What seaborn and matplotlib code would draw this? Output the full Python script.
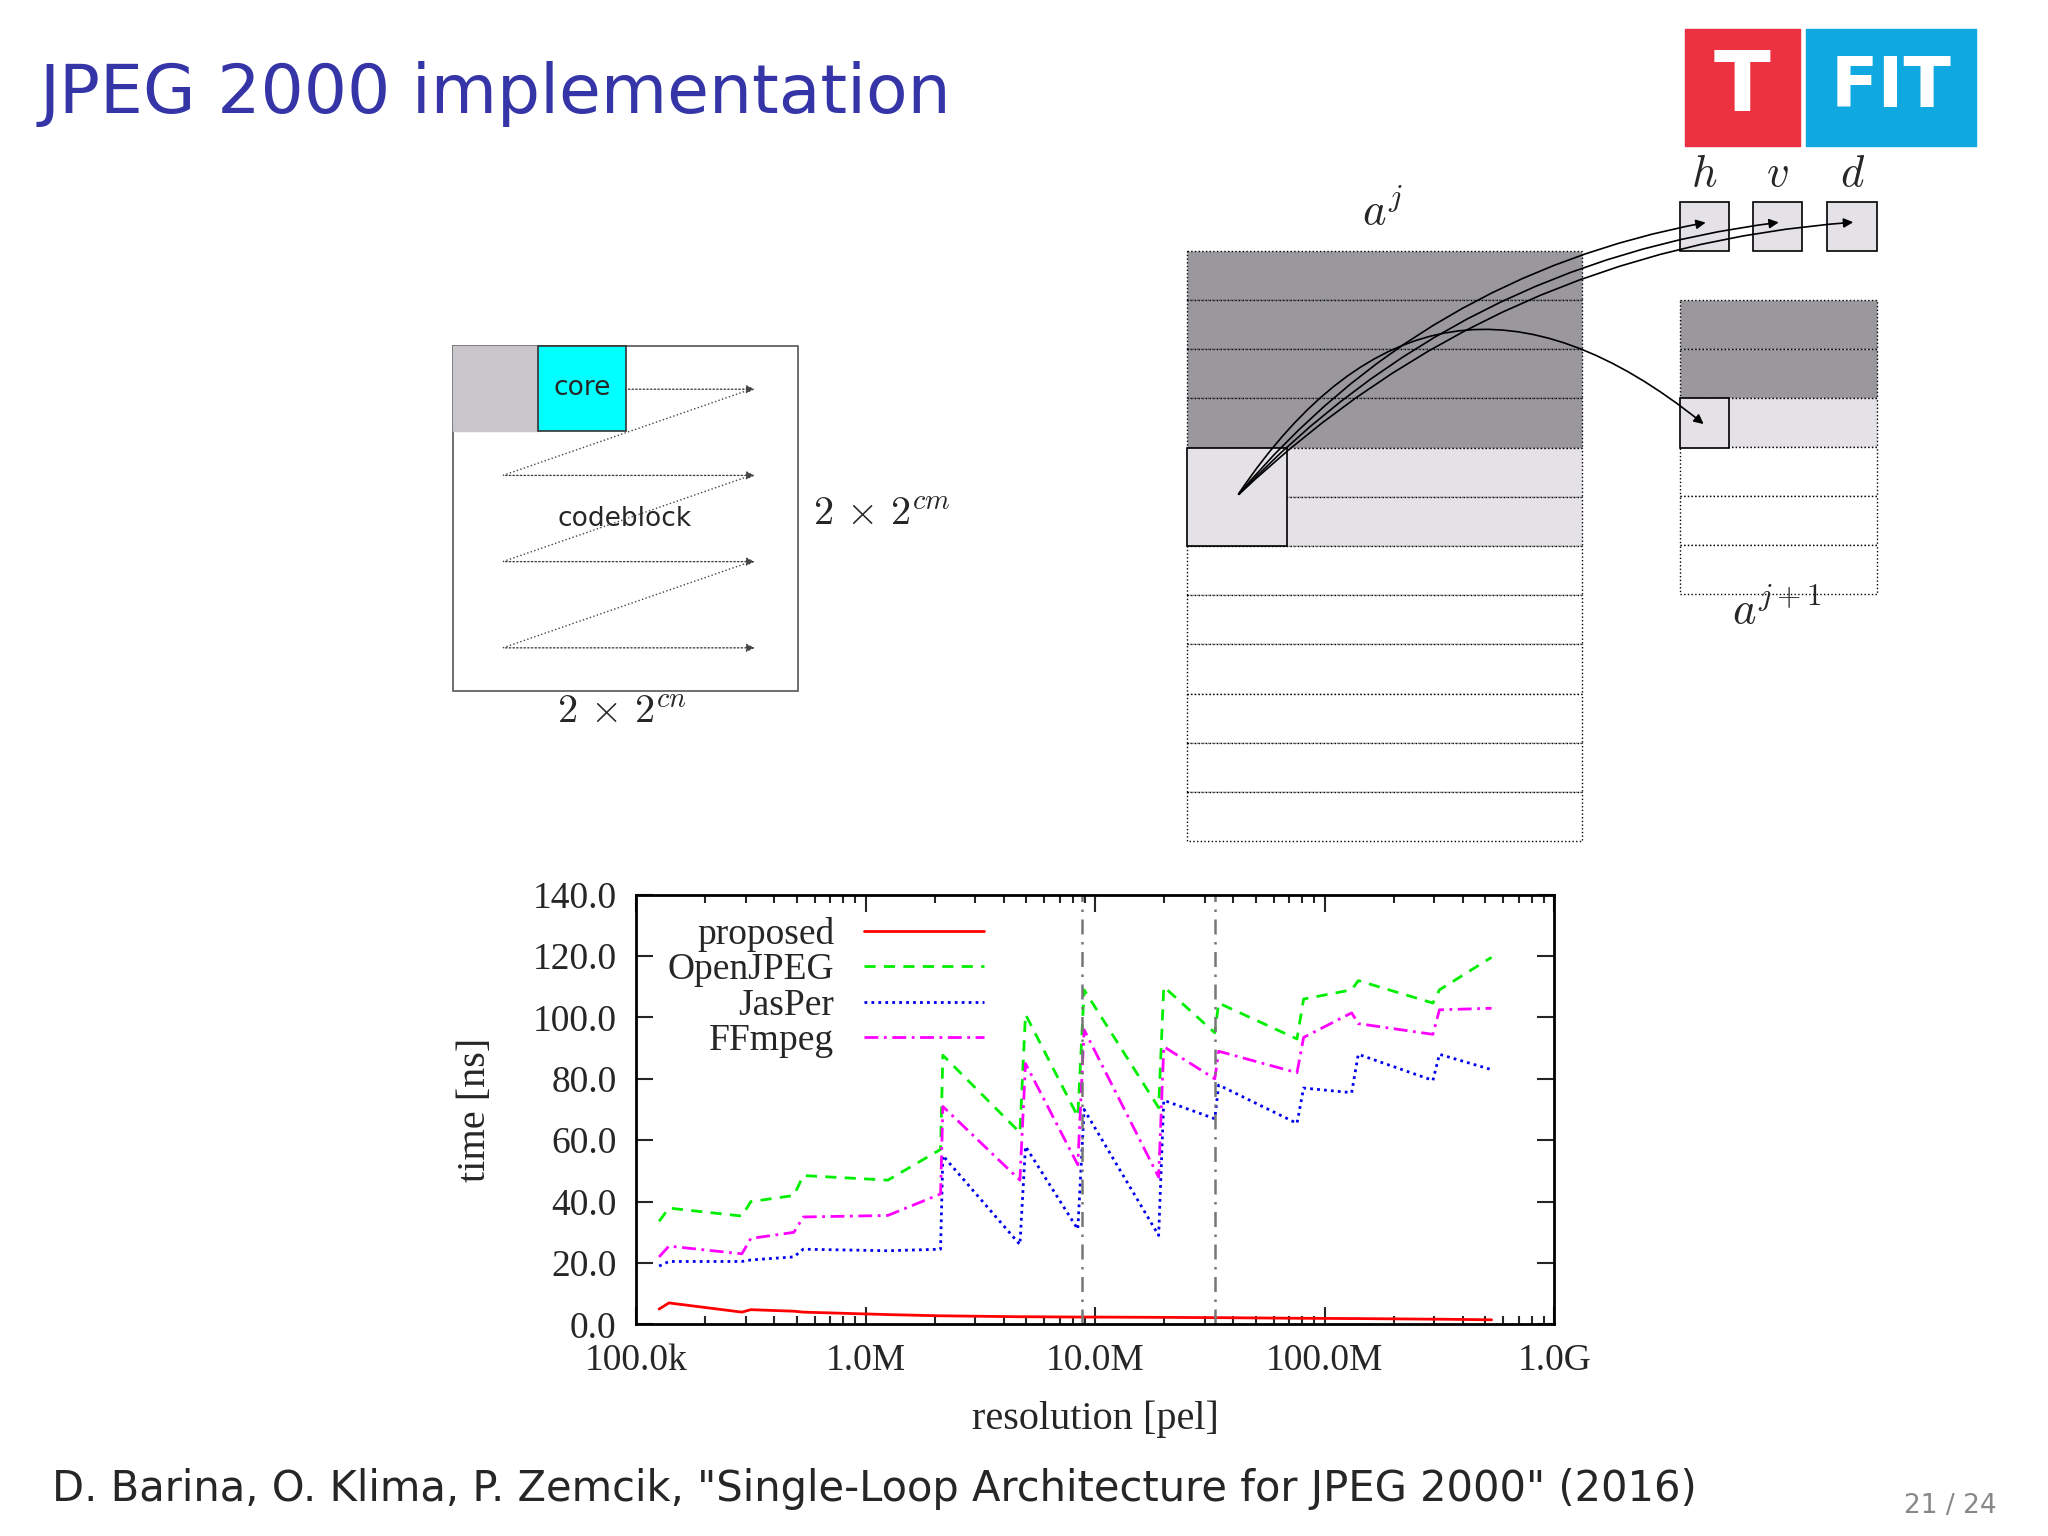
import numpy as np
import pandas as pd
import matplotlib
matplotlib.use("Agg")
import matplotlib.pyplot as plt
import matplotlib.ticker as mticker
from matplotlib.patches import Rectangle, FancyArrowPatch
import seaborn as sns

# resolution [pel] sample points
resolution = [126e3, 139e3, 289e3, 316e3, 487e3, 535e3, 1.25e6, 2.12e6, 2.17e6, 4.7e6,
              4.97e6, 8.4e6, 8.95e6, 18.9e6, 19.9e6, 33.2e6, 34.5e6, 75.7e6, 80.9e6,
              131e6, 140e6, 296e6, 316e6, 533e6]
proposed = [5.0, 7.0, 4.0, 4.8, 4.3, 4.0, 3.2, 2.8, 2.8, 2.5, 2.5, 2.4, 2.4, 2.3, 2.3,
            2.2, 2.2, 2.0, 2.0, 1.9, 1.9, 1.7, 1.7, 1.5]
openjpeg = [33.6, 37.9, 35.3, 40.0, 42.0, 48.5, 47.0, 57.0, 87.7, 62.5, 101.0, 67.7,
            109.0, 70.6, 110.0, 95.0, 104.7, 93.0, 106.0, 109.0, 112.0, 104.7, 109.0, 119.6]
jasper = [19.0, 20.5, 20.5, 21.0, 22.0, 24.5, 24.0, 24.5, 55.0, 26.0, 58.0, 31.0, 70.0,
          29.0, 73.0, 67.0, 78.0, 65.5, 77.0, 75.5, 88.0, 79.5, 88.0, 83.0]
ffmpeg = [22.0, 25.5, 23.0, 28.0, 30.0, 35.0, 35.5, 42.5, 71.0, 47.0, 85.0, 52.0, 96.0,
          48.0, 90.5, 80.0, 89.0, 82.0, 93.5, 101.5, 98.0, 94.5, 102.5, 103.0]
series_names = ["proposed", "OpenJPEG", "JasPer", "FFmpeg"]
vlines = [8.8e6, 33.2e6]
y_ticks = [0, 20, 40, 60, 80, 100, 120, 140]
x_ticks = [1e5, 1e6, 1e7, 1e8, 1e9]
x_ticklabels = ["100.0k", "1.0M", "10.0M", "100.0M", "1.0G"]

df = pd.DataFrame({"resolution": resolution * 4,
                   "time": proposed + openjpeg + jasper + ffmpeg,
                   "impl": sum([[n] * len(resolution) for n in series_names], [])})

sns.set_theme(style="white")
plt.rcParams["font.family"] = ["DejaVu Sans"]
plt.rcParams["mathtext.fontset"] = "cm"
W, H = 1568, 1176
fig = plt.figure(figsize=(20.48, 15.36), dpi=100)
fig.patch.set_facecolor("white")

# slide overlay in reference pixel units
ov = fig.add_axes([0, 0, 1, 1])
ov.set_xlim(0, W)
ov.set_ylim(H, 0)
ov.axis("off")

ov.text(30, 72, "JPEG 2000 implementation", color="#3535a8", fontsize=49, va="center")
ov.add_patch(Rectangle((1290, 22), 88, 90, color="#ec3140"))
ov.add_patch(Rectangle((1383, 22), 130, 90, color="#10a8e0"))
ov.text(1334, 67, "T", color="white", fontsize=60, fontweight="bold", ha="center", va="center")
ov.text(1448, 67, "FIT", color="white", fontsize=50, fontweight="bold", ha="center", va="center")

# codeblock diagram
ov.add_patch(Rectangle((347, 265), 264, 264, fill=False, ec="#555555", lw=1.2))
ov.add_patch(Rectangle((347, 265), 65, 65, color="#c8c6ca"))
ov.add_patch(Rectangle((412, 265), 67, 65, fc="#00ffff", ec="#333333", lw=1.2))
ov.text(446, 297, "core", fontsize=19, ha="center", va="center")
ov.text(478, 397, "codeblock", fontsize=19, ha="center", va="center")
rows_y = [298, 364, 430, 496]
for i, ry in enumerate(rows_y):
    x0 = 479 if i == 0 else 385
    ov.annotate("", xy=(580, ry), xytext=(x0, ry),
                arrowprops=dict(arrowstyle="-|>", ls=":", color="#444444", lw=1))
    if i < 3:
        ov.plot([575, 385], [ry, rows_y[i + 1]], ls=":", color="#444444", lw=1)
ov.text(675, 393, r"$2\,\times\,2^{cm}$", fontsize=29, ha="center", va="center")
ov.text(476, 545, r"$2\,\times\,2^{cn}$", fontsize=29, ha="center", va="center")

# wavelet diagram
rh = 452 / 12
for i in range(12):
    fc = "#9a989c" if i < 4 else ("#e4e2e6" if i < 6 else "white")
    ov.add_patch(Rectangle((909, 192 + i * rh), 302, rh, fc=fc, ec="black", lw=1, ls=":"))
ov.add_patch(Rectangle((909, 343), 76, 75, fc="#e4e2e6", ec="black", lw=1.2))
for i in range(6):
    fc = "#9a989c" if i < 2 else ("#e4e2e6" if i == 2 else "white")
    ov.add_patch(Rectangle((1286, 230 + i * 37.5), 151, 37.5, fc=fc, ec="black", lw=1, ls=":"))
ov.add_patch(Rectangle((1286, 305), 38, 38, fc="#e4e2e6", ec="black", lw=1.2))
for bx, lab in zip([1286, 1342, 1399], ["h", "v", "d"]):
    ov.add_patch(Rectangle((bx, 155), 38, 37, fc="#e4e2e6", ec="black", lw=1.2))
    ov.text(bx + 19, 133, "$" + lab + "$", fontsize=32, ha="center", va="center")
    ov.add_patch(FancyArrowPatch((947, 380), (bx + 22, 170), connectionstyle="arc3,rad=-0.18",
                                 arrowstyle="-|>", mutation_scale=14, color="black", lw=1.2))
ov.add_patch(FancyArrowPatch((947, 380), (1306, 326), connectionstyle="arc3,rad=-0.55",
                             arrowstyle="-|>", mutation_scale=14, color="black", lw=1.2))
ov.text(1058, 163, "$a^j$", fontsize=32, ha="center", va="center")
ov.text(1360, 468, "$a^{j+1}$", fontsize=32, ha="center", va="center")

ov.text(40, 1140, 'D. Barina, O. Klima, P. Zemcik, "Single-Loop Architecture for JPEG 2000" (2016)',
        fontsize=30, va="center")
ov.text(1493, 1153, "21 / 24", fontsize=19, color="#888888", ha="center", va="center")

# chart
ax = fig.add_axes([487 / W, 1 - 1014 / H, (1190 - 487) / W, (1014 - 685) / H])
palette = {"proposed": "#ff0000", "OpenJPEG": "#00ee00", "JasPer": "#0000ee", "FFmpeg": "#ff00ff"}
dashes = {"proposed": "", "OpenJPEG": (4, 3), "JasPer": (1, 1.5), "FFmpeg": (5, 2, 1, 2)}
sns.lineplot(data=df, x="resolution", y="time", hue="impl", style="impl",
             palette=palette, dashes=dashes, lw=2, ax=ax, legend=False)
for v in vlines:
    ax.axvline(v, color="#777777", ls=(0, (6, 3, 1, 3)), lw=1.8)
ax.set_xscale("log")
ax.set_xlim(1e5, 1e9)
ax.set_ylim(0, 140)
ax.set_xticks(x_ticks)
ax.set_xticklabels(x_ticklabels)
ax.set_yticks(y_ticks)
ax.set_yticklabels([f"{t:.1f}" for t in y_ticks])
ax.xaxis.set_minor_locator(mticker.LogLocator(base=10, subs=np.arange(2, 10)))
ax.xaxis.set_minor_formatter(mticker.NullFormatter())
ax.tick_params(which="both", direction="in", top=True, right=True, bottom=True, left=True)
ax.tick_params(which="major", length=12, width=1.5, labelsize=27, pad=14)
ax.tick_params(which="minor", length=6, width=1.5)
for t in ax.get_xticklabels() + ax.get_yticklabels():
    t.set_family("Liberation Serif")
for s in ax.spines.values():
    s.set_color("black")
    s.set_linewidth(2)
ax.set_xlabel("resolution [pel]", family="Liberation Serif", fontsize=29, labelpad=16)
ax.set_ylabel("time [ns]", family="Liberation Serif", fontsize=29, labelpad=28)

handles = [plt.Line2D([], [], color=palette[n], lw=2,
                      ls="-" if n == "proposed" else (0, dashes[n])) for n in series_names]
leg = ax.legend(handles, series_names, loc="upper left", markerfirst=False, frameon=False,
                prop={"family": "Liberation Serif", "size": 27}, handlelength=3.2,
                labelspacing=0.02, borderaxespad=0.2, bbox_to_anchor=(0.01, 1.0))
for t in leg.get_texts():
    t.set_ha("right")

fig.savefig("out.png", dpi=100)
